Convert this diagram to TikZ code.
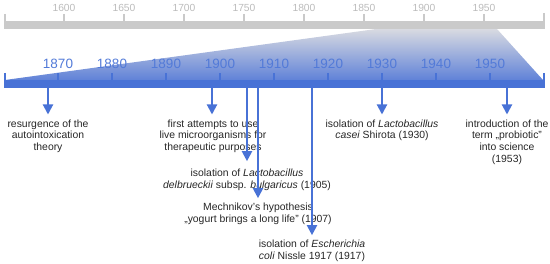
\documentclass[tikz,border=0pt]{standalone}
\usepackage{fontspec}
\setmainfont{Liberation Sans}
\usetikzlibrary{arrows.meta}
\definecolor{barblue}{RGB}{72,114,214}
\definecolor{lblblue}{RGB}{82,122,216}
\definecolor{bargray}{RGB}{202,202,202}
\definecolor{lblgray}{RGB}{188,188,188}
\definecolor{shtop}{RGB}{216,218,225}
\definecolor{shbot}{RGB}{96,130,216}
\begin{document}
\begin{tikzpicture}[x=1pt,y=-1pt,
  evt/.style={font=\fontsize{10.4}{11.7}\selectfont, align=center, inner sep=0pt, anchor=north, text=black!85},
  arr/.style={draw=barblue, line width=2pt, -{Triangle[width=10pt,length=10pt]}},
  gtick/.style={draw=bargray, line width=1.2pt},
  btick/.style={draw=barblue, line width=1.2pt},
  glbl/.style={text=lblgray, font=\fontsize{10.3}{12}\selectfont, inner sep=0pt},
  blbl/.style={text=lblblue, font=\fontsize{13.5}{15}\selectfont, inner sep=0pt}]
\useasboundingbox (0,0) rectangle (550,264);
% zoom trapezoid
\shade[top color=shtop, bottom color=shbot] (5,80) -- (376,29) -- (497,29) -- (543,80) -- cycle;
% gray overview bar
\fill[bargray] (4.4,21) rectangle (544.6,29);
\draw[gtick] (5,14) -- (5,29);
\draw[gtick] (544,13) -- (544,29);
\foreach \yr in {1600,1650,...,1950}{
  \pgfmathsetmacro{\xx}{4+(\yr-1550)*1.2}
  \draw[gtick] (\xx,14) -- (\xx,21);
  \node[glbl] (g\yr) at (\xx,7.5) {\yr};
}
% blue detail bar
\fill[barblue] (4.4,80) rectangle (544.6,88.5);
\draw[btick] (5,73) -- (5,88.5);
\draw[btick] (544,73) -- (544,88.5);
\foreach \yr in {1870,1880,...,1950}{
  \pgfmathsetmacro{\xx}{4+(\yr-1860)*5.4}
  \draw[btick] (\xx,73.5) -- (\xx,80);
  \node[blbl] (b\yr) at (\xx,64) {\yr};
}
% anchor points on the bar
\coordinate (s1) at (48,88.5);
\coordinate (s2) at (212,88.5);
\coordinate (s3) at (247,88.5);
\coordinate (s4) at (258,88.5);
\coordinate (s5) at (312,88.5);
\coordinate (s6) at (382,88.5);
\coordinate (s7) at (507,88.5);
% event texts
\node[evt] (e1) at (48,119.5) {resurgence of the\\autointoxication\\theory};
\node[evt] (e2) at (213,119.5) {first attempts to use\\live microorganisms for\\therapeutic purposes};
\node[evt] (e3) at (247,168.7) {isolation of \textit{Lactobacillus}\\\textit{delbrueckii} subsp. \textit{bulgaricus} (1905)};
\node[evt] (e4) at (258,202.7) {Mechnikov’s hypothesis\\„yogurt brings a long life” (1907)};
\node[evt] (e5) at (312,239.7) {isolation of \textit{Escherichia}\\\textit{coli} Nissle 1917 (1917)};
\node[evt] (e6) at (382,119.5) {isolation of \textit{Lactobacillus}\\\textit{casei} Shirota (1930)};
\node[evt] (e7) at (507,119.5) {introduction of the\\term „probiotic”\\into science\\(1953)};
% arrows
\draw[arr, shorten >=5pt] (s1) -- (e1.north);
\draw[arr, shorten >=5pt] (s2) -- (s2 |- e2.north);
\draw[arr, shorten >=7.5pt] (s3) -- (e3.north);
\draw[arr, shorten >=4.5pt] (s4) -- (e4.north);
\draw[arr, shorten >=4.5pt] (s5) -- (e5.north);
\draw[arr, shorten >=5pt] (s6) -- (e6.north);
\draw[arr, shorten >=5pt] (s7) -- (e7.north);
\end{tikzpicture}
\end{document}
